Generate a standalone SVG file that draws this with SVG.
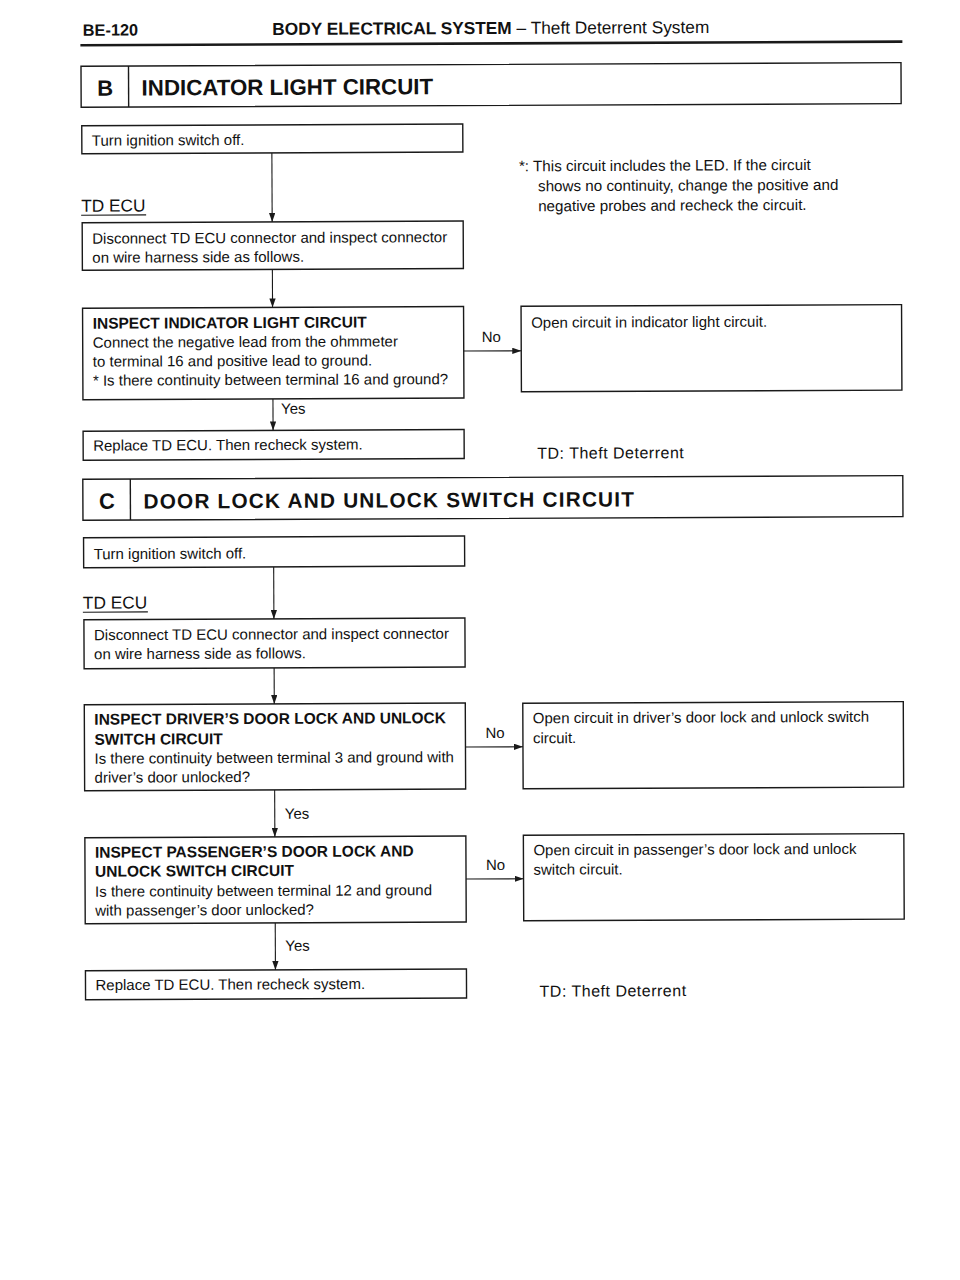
<svg xmlns="http://www.w3.org/2000/svg" width="960" height="1280" viewBox="0 0 960 1280">
<style>
text{font-family:"Liberation Sans",Arial,Helvetica,sans-serif;fill:#111}
.t{font-size:15px}
.b{font-size:15.5px;font-weight:bold}
.h{font-size:17.3px}
.hb{font-size:16.3px;font-weight:bold}
.sec{font-weight:bold}
.ecu{font-size:17.3px}
.note{font-size:15.2px}
.td{font-size:16px;letter-spacing:0.5px}
.box{fill:none;stroke:#1a1a1a;stroke-width:1.4}
.con{fill:none;stroke:#1a1a1a;stroke-width:1.1}
</style>
<defs>
<marker id="ah" viewBox="0 0 10 7" refX="10" refY="3.5" markerWidth="9" markerHeight="6.3" markerUnits="userSpaceOnUse" orient="auto">
<path d="M0,0 L10,3.5 L0,7 Z" fill="#1a1a1a"/>
</marker>
</defs>
<rect width="960" height="1280" fill="#fff"/>
<g transform="rotate(-0.25 480 640)">
<g id="page-header">
<text x="85.5" y="34" class="hb">BE-120</text>
<text x="275" y="34" class="h"><tspan font-weight="bold">BODY ELECTRICAL SYSTEM</tspan> – Theft Deterrent System</text>
<line x1="83" y1="43.5" x2="905" y2="43.5" stroke="#1a1a1a" stroke-width="2.6"/>
</g>

<!-- Section B -->
<g id="sectionB-header">
<rect x="83.5" y="64.5" width="820" height="41" class="box"/>
<line x1="131" y1="64.5" x2="131" y2="105.5" class="box"/>
<text x="107.5" y="94" text-anchor="middle" class="sec" style="font-size:22px">B</text>
<text x="144" y="94" class="sec" style="font-size:22.3px">INDICATOR LIGHT CIRCUIT</text>
</g>
<g id="B1">
<rect x="84" y="124" width="381" height="28" class="box"/>
<text x="94" y="144" class="t">Turn ignition switch off.</text>
</g>
<g id="B-tdecu">
<text x="83" y="210" class="ecu">TD ECU</text>
<line x1="83" y1="213.5" x2="148" y2="213.5" stroke="#1a1a1a" stroke-width="1.2"/>
</g>
<g id="B-note">
<text x="521" y="171.5" class="note">*: This circuit includes the LED. If the circuit</text>
<text x="540" y="191.5" class="note">shows no continuity, change the positive and</text>
<text x="540" y="211.5" class="note">negative probes and recheck the circuit.</text>
</g>
<g id="B2">
<rect x="84" y="221" width="381" height="47.5" class="box"/>
<text x="94" y="242" class="t">Disconnect TD ECU connector and inspect connector</text>
<text x="94" y="261" class="t">on wire harness side as follows.</text>
</g>
<g id="B3">
<rect x="84" y="306.5" width="381" height="91.5" class="box"/>
<text x="94" y="327" class="b">INSPECT INDICATOR LIGHT CIRCUIT</text>
<text x="94" y="346" class="t">Connect the negative lead from the ohmmeter</text>
<text x="94" y="365" class="t">to terminal 16 and positive lead to ground.</text>
<text x="94" y="384" class="t">* Is there continuity between terminal 16 and ground?</text>
</g>
<g id="B3-no">
<rect x="522.5" y="306.5" width="380.5" height="85.5" class="box"/>
<text x="532.5" y="328" class="t">Open circuit in indicator light circuit.</text>
</g>
<g id="B4">
<rect x="84" y="429.5" width="381" height="29" class="box"/>
<text x="94" y="449" class="t">Replace TD ECU. Then recheck system.</text>
</g>
<text x="538" y="459" class="td">TD: Theft Deterrent</text>

<!-- Section C -->
<g id="sectionC-header">
<rect x="83.5" y="477.5" width="820" height="41" class="box"/>
<line x1="131" y1="477.5" x2="131" y2="518.5" class="box"/>
<text x="107.5" y="507" text-anchor="middle" class="sec" style="font-size:22px">C</text>
<text x="144" y="507" class="sec" style="font-size:20.8px;letter-spacing:1.2px">DOOR LOCK AND UNLOCK SWITCH CIRCUIT</text>
</g>
<g id="C1">
<rect x="84" y="536" width="381" height="30" class="box"/>
<text x="94" y="557.5" class="t">Turn ignition switch off.</text>
</g>
<g id="C-tdecu">
<text x="83" y="607" class="ecu">TD ECU</text>
<line x1="83" y1="610.5" x2="148" y2="610.5" stroke="#1a1a1a" stroke-width="1.2"/>
</g>
<g id="C2">
<rect x="84" y="618" width="381" height="49" class="box"/>
<text x="94" y="638.5" class="t">Disconnect TD ECU connector and inspect connector</text>
<text x="94" y="657.5" class="t">on wire harness side as follows.</text>
</g>
<g id="C3">
<rect x="84" y="703" width="381" height="86" class="box"/>
<text x="94" y="723" class="b">INSPECT DRIVER’S DOOR LOCK AND UNLOCK</text>
<text x="94" y="743" class="b">SWITCH CIRCUIT</text>
<text x="94" y="762" class="t">Is there continuity between terminal 3 and ground with</text>
<text x="94" y="781" class="t">driver’s door unlocked?</text>
</g>
<g id="C3-no">
<rect x="522.5" y="703.5" width="380.5" height="85.5" class="box"/>
<text x="532.5" y="723.5" class="t">Open circuit in driver’s door lock and unlock switch</text>
<text x="532.5" y="743.5" class="t">circuit.</text>
</g>
<g id="C4">
<rect x="84" y="836" width="381" height="86" class="box"/>
<text x="94" y="856" class="b">INSPECT PASSENGER’S DOOR LOCK AND</text>
<text x="94" y="875" class="b">UNLOCK SWITCH CIRCUIT</text>
<text x="94" y="895" class="t">Is there continuity between terminal 12 and ground</text>
<text x="94" y="914" class="t">with passenger’s door unlocked?</text>
</g>
<g id="C4-no">
<rect x="522.5" y="835.5" width="380.5" height="85.5" class="box"/>
<text x="532.5" y="855.5" class="t">Open circuit in passenger’s door lock and unlock</text>
<text x="532.5" y="875" class="t">switch circuit.</text>
</g>
<g id="C5">
<rect x="84" y="969" width="381" height="29" class="box"/>
<text x="94" y="988.5" class="t">Replace TD ECU. Then recheck system.</text>
</g>
<text x="538" y="997" class="td">TD: Theft Deterrent</text>

<g id="connectors">
<line x1="274" y1="152" x2="274" y2="221" class="con" marker-end="url(#ah)"/>
<line x1="274" y1="268.5" x2="274" y2="306.5" class="con" marker-end="url(#ah)"/>
<line x1="465" y1="351" x2="522.5" y2="351" class="con" marker-end="url(#ah)"/>
<line x1="274" y1="398" x2="274" y2="429.5" class="con" marker-end="url(#ah)"/>
<line x1="274" y1="566" x2="274" y2="618" class="con" marker-end="url(#ah)"/>
<line x1="274" y1="667" x2="274" y2="703" class="con" marker-end="url(#ah)"/>
<line x1="465" y1="747" x2="522.5" y2="747" class="con" marker-end="url(#ah)"/>
<line x1="274" y1="789" x2="274" y2="836" class="con" marker-end="url(#ah)"/>
<line x1="465" y1="879" x2="522.5" y2="879" class="con" marker-end="url(#ah)"/>
<line x1="274" y1="922" x2="274" y2="969" class="con" marker-end="url(#ah)"/>
<text x="483" y="342" class="t">No</text>
<text x="282" y="413" class="t">Yes</text>
<text x="485" y="738" class="t">No</text>
<text x="284" y="818" class="t">Yes</text>
<text x="485" y="870" class="t">No</text>
<text x="284" y="950" class="t">Yes</text>
</g>
</g>
</svg>
